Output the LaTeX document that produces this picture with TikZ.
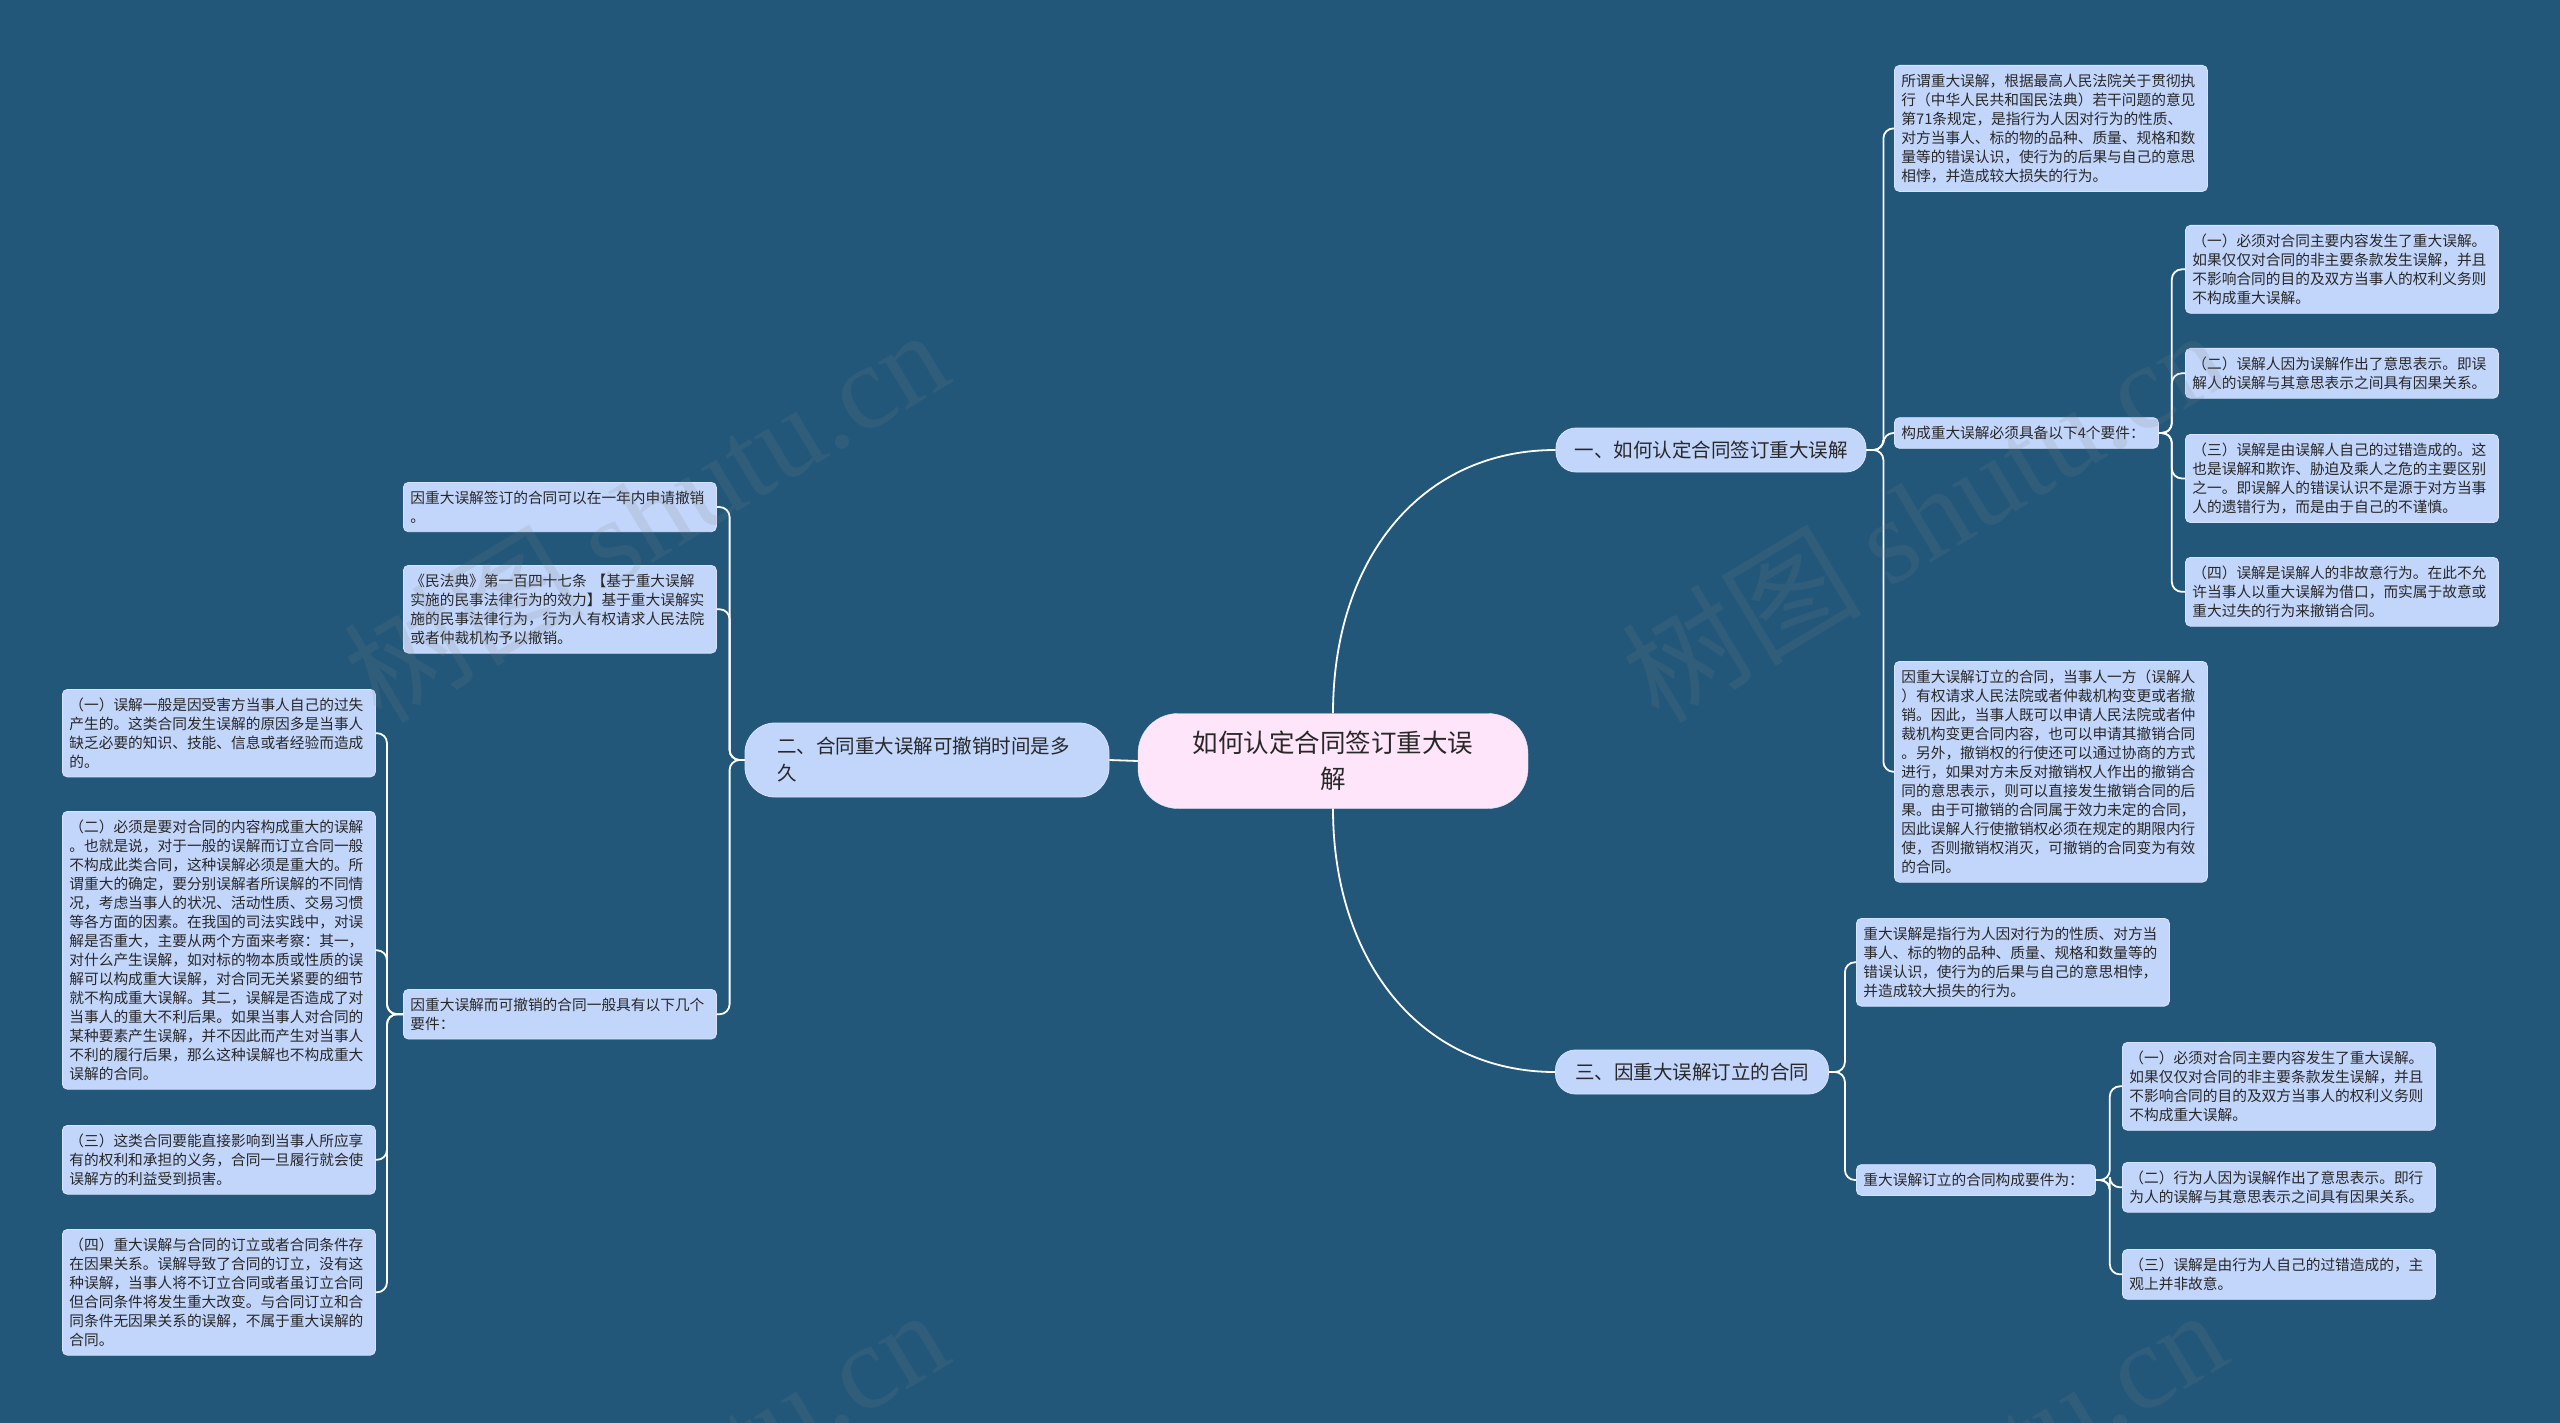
\documentclass[tikz,border=0pt]{standalone}
\usepackage{fontspec}
\setmainfont{Noto Sans CJK SC}
\newfontfamily\wmserif{Liberation Serif}
\definecolor{bgblue}{RGB}{35,87,122}
\definecolor{leaffill}{RGB}{194,213,250}
\definecolor{leafline}{RGB}{214,228,255}
\definecolor{rootfill}{RGB}{255,229,250}
\definecolor{inktext}{RGB}{40,40,40}
\tikzset{
  link/.style={draw=white, line width=1.8pt, rounded corners=10pt},
  leaf/.style={draw=leafline, line width=0.8pt, fill=leaffill, rounded corners=5pt,
    text width=299pt, inner xsep=7pt, inner ysep=8.5pt, align=left, text=inktext,
    font=\fontsize{14.7}{19}\selectfont, anchor=north west},
  topic/.style={draw=leafline, line width=0.8pt, fill=leaffill, text=inktext,
    font=\fontsize{19.5}{27}\selectfont},
  watermark/.style={text=gray, opacity=0.15, rotate=31, font=\fontsize{120}{120}\selectfont}
}
\begin{document}
\begin{tikzpicture}[x=1pt, y=-1pt]
            % Background
            \useasboundingbox (0,0) rectangle (2560,1423);
            \fill [bgblue] (0,0) rectangle (2560,1423);
            % Root and main topics
            \node [draw=leafline, fill=rootfill, rounded corners=40pt, minimum width=390pt, minimum height=95pt,
              align=center, text=inktext, font=\fontsize{25.5}{36}\selectfont] (root) at (1333,761) {如何认定合同签订重大误\\解};
            \node [topic, rounded corners=20pt, minimum width=310pt, minimum height=44pt] (br1) at (1711,450) {一、如何认定合同签订重大误解};
            \node [topic, rounded corners=30pt, text width=300pt, align=left, inner xsep=32pt, minimum height=74pt] (br2) at (927,760) {二、合同重大误解可撤销时间是多\\久};
            \node [topic, rounded corners=20pt, minimum width=273pt, minimum height=44pt] (br3) at (1692,1072) {三、因重大误解订立的合同};
            \draw [link] (root.north) .. controls (1333,560) and (1420,450) .. (br1.west);
            \draw [link] (root.south) .. controls (1333,960) and (1420,1072) .. (br3.west);
            \draw [link] (br2.east) -- (root.west);
            % Topic one
            \node [leaf] (t1a) at (1894,65) {所谓重大误解，根据最高人民法院关于贯彻执\\行（中华人民共和国民法典）若干问题的意见\\第71条规定，是指行为人因对行为的性质、\\对方当事人、标的物的品种、质量、规格和数\\量等的错误认识，使行为的后果与自己的意思\\相悖，并造成较大损失的行为。};
            \node [leaf, text width=250pt, anchor=west] (t1b) at (1894,433) {构成重大误解必须具备以下4个要件：};
            \node [leaf] (t1c) at (1894,661) {因重大误解订立的合同，当事人一方（误解人\\）有权请求人民法院或者仲裁机构变更或者撤\\销。因此，当事人既可以申请人民法院或者仲\\裁机构变更合同内容，也可以申请其撤销合同\\。另外，撤销权的行使还可以通过协商的方式\\进行，如果对方未反对撤销权人作出的撤销合\\同的意思表示，则可以直接发生撤销合同的后\\果。由于可撤销的合同属于效力未定的合同，\\因此误解人行使撤销权必须在规定的期限内行\\使，否则撤销权消灭，可撤销的合同变为有效\\的合同。};
            \foreach \kid in {t1a,t1b,t1c}
              \draw [link] (br1.east) -- ++(17,0) |- (\kid.west);
            % Four elements
            \node [leaf] (u1) at (2185,225) {（一）必须对合同主要内容发生了重大误解。\\如果仅仅对合同的非主要条款发生误解，并且\\不影响合同的目的及双方当事人的权利义务则\\不构成重大误解。};
            \node [leaf] (u2) at (2185,348) {（二）误解人因为误解作出了意思表示。即误\\解人的误解与其意思表示之间具有因果关系。};
            \node [leaf] (u3) at (2185,434) {（三）误解是由误解人自己的过错造成的。这\\也是误解和欺诈、胁迫及乘人之危的主要区别\\之一。即误解人的错误认识不是源于对方当事\\人的遗错行为，而是由于自己的不谨慎。};
            \node [leaf] (u4) at (2185,557) {（四）误解是误解人的非故意行为。在此不允\\许当事人以重大误解为借口，而实属于故意或\\重大过失的行为来撤销合同。};
            \foreach \kid in {u1,u2,u3,u4}
              \draw [link] (t1b.east) -- ++(13,0) |- (\kid.west);
            % Topic three
            \node [leaf] (t3a) at (1856,918) {重大误解是指行为人因对行为的性质、对方当\\事人、标的物的品种、质量、规格和数量等的\\错误认识，使行为的后果与自己的意思相悖，\\并造成较大损失的行为。};
            \node [leaf, text width=225pt, anchor=west] (t3b) at (1856,1180) {重大误解订立的合同构成要件为：};
            \foreach \kid in {t3a,t3b}
              \draw [link] (br3.east) -- ++(16,0) |- (\kid.west);
            \node [leaf] (v1) at (2122,1042) {（一）必须对合同主要内容发生了重大误解。\\如果仅仅对合同的非主要条款发生误解，并且\\不影响合同的目的及双方当事人的权利义务则\\不构成重大误解。};
            \node [leaf] (v2) at (2122,1162) {（二）行为人因为误解作出了意思表示。即行\\为人的误解与其意思表示之间具有因果关系。};
            \node [leaf] (v3) at (2122,1249) {（三）误解是由行为人自己的过错造成的，主\\观上并非故意。};
            \foreach \kid in {v1,v2,v3}
              \draw [link] (t3b.east) -- ++(14,0) |- (\kid.west);
            % Topic two
            \node [leaf] (t2a) at (403,482) {因重大误解签订的合同可以在一年内申请撤销\\。};
            \node [leaf] (t2b) at (403,565) {《民法典》第一百四十七条 【基于重大误解\\实施的民事法律行为的效力】基于重大误解实\\施的民事法律行为，行为人有权请求人民法院\\或者仲裁机构予以撤销。};
            \node [leaf] (t2c) at (403,989) {因重大误解而可撤销的合同一般具有以下几个\\要件：};
            \foreach \kid in {t2a,t2b,t2c}
              \draw [link] (br2.west) -- ++(-15,0) |- (\kid.east);
            \node [leaf] (w1) at (62,689) {（一）误解一般是因受害方当事人自己的过失\\产生的。这类合同发生误解的原因多是当事人\\缺乏必要的知识、技能、信息或者经验而造成\\的。};
            \node [leaf] (w2) at (62,811) {（二）必须是要对合同的内容构成重大的误解\\。也就是说，对于一般的误解而订立合同一般\\不构成此类合同，这种误解必须是重大的。所\\谓重大的确定，要分别误解者所误解的不同情\\况，考虑当事人的状况、活动性质、交易习惯\\等各方面的因素。在我国的司法实践中，对误\\解是否重大，主要从两个方面来考察：其一，\\对什么产生误解，如对标的物本质或性质的误\\解可以构成重大误解，对合同无关紧要的细节\\就不构成重大误解。其二，误解是否造成了对\\当事人的重大不利后果。如果当事人对合同的\\某种要素产生误解，并不因此而产生对当事人\\不利的履行后果，那么这种误解也不构成重大\\误解的合同。};
            \node [leaf] (w3) at (62,1125) {（三）这类合同要能直接影响到当事人所应享\\有的权利和承担的义务，合同一旦履行就会使\\误解方的利益受到损害。};
            \node [leaf] (w4) at (62,1229) {（四）重大误解与合同的订立或者合同条件存\\在因果关系。误解导致了合同的订立，没有这\\种误解，当事人将不订立合同或者虽订立合同\\但合同条件将发生重大改变。与合同订立和合\\同条件无因果关系的误解，不属于重大误解的\\合同。};
            \foreach \kid in {w1,w2,w3,w4}
              \draw [link] (t2c.west) -- ++(-16,0) |- (\kid.east);
            % Watermarks
            \foreach \wx/\wy in {645/514, 1923/514, 645/1494, 1923/1494}
              \node [watermark] at (\wx,\wy) {树图 {\wmserif shutu.cn}};
        \end{tikzpicture}
\end{document}
